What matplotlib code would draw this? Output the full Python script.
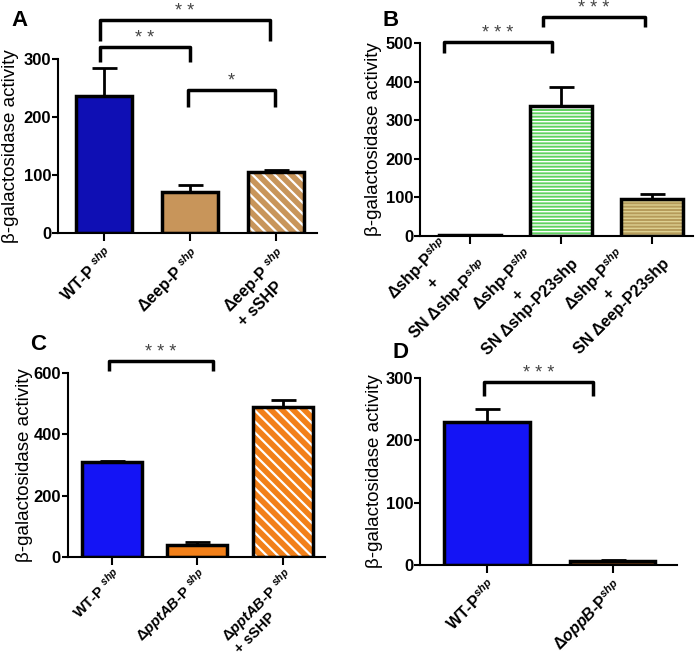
import matplotlib
matplotlib.use('Agg')
import matplotlib.pyplot as plt

plt.rcParams['font.family'] = ['Liberation Sans', 'DejaVu Sans']
plt.rcParams['mathtext.fontset'] = 'custom'
plt.rcParams['mathtext.rm'] = 'Liberation Sans:bold'
plt.rcParams['mathtext.it'] = 'Liberation Sans:italic:bold'
plt.rcParams['mathtext.bf'] = 'Liberation Sans:bold'

# panel A
a_labels = ['WT-P $^{shp}$', 'Δeep-P $^{shp}$', 'Δeep-P $^{shp}$\n+ sSHP']
a_vals = [236, 71, 105]
a_err = [48, 12, 3]
a_sig = [(-0.05, 1.0, 321, 295, '* *'), (-0.05, 1.93, 367, 331, '* *'), (0.97, 1.99, 247, 217, '*')]

# panel B
b_labels = ['Δshp-P$^{shp}$\n+\nSN Δshp-P$^{shp}$', 'Δshp-P$^{shp}$\n+\nSN Δshp-P23shp',
            'Δshp-P$^{shp}$\n+\nSN Δeep-P23shp']
b_vals = [2, 337, 96]
b_err = [1, 49, 13]
b_sig = [(-0.29, 0.90, 503, 474, '* * *'), (0.80, 1.92, 567, 541, '* * *')]

# panel C
c_labels = ['WT-P $^{shp}$', 'Δ$pptAB$-P $^{shp}$', 'Δ$pptAB$-P $^{shp}$\n+ sSHP']
c_vals = [310, 39, 489]
c_err = [3, 10, 23]
c_sig = [(-0.04, 1.18, 640, 607, '* * *')]

# panel D
d_labels = ['WT-P$^{shp}$', 'Δ$oppB$-P$^{shp}$']
d_vals = [229, 6]
d_err = [21, 2]
d_sig = [(-0.02, 0.84, 294, 271, '* * *')]

fig = plt.figure(figsize=(7, 6.52), dpi=100)


def panel(rect, letter, letter_xy, labels, vals, err, styles, ylim, yticks, xlim, width, sig,
          ylab_x, xfs, xva, xalign, xpad=2, lsp=1.2):
    ax = fig.add_axes(rect)
    x = list(range(len(vals)))
    for i in x:
        fc, hatch, hc, lw_h = styles[i]
        if hatch:
            with plt.rc_context({'hatch.linewidth': lw_h}):
                ax.bar(i, vals[i], width, color=fc, edgecolor=hc, hatch=hatch, linewidth=0, zorder=2)
        else:
            ax.bar(i, vals[i], width, color=fc, linewidth=0, zorder=2)
        ax.bar(i, vals[i], width, fill=False, edgecolor='black', linewidth=2.5, zorder=3)
    ax.errorbar(x, vals, yerr=[[0] * len(vals), err], fmt='none', ecolor='black',
                elinewidth=2, capsize=9, capthick=2, zorder=1)
    ax.set_ylim(*ylim)
    ax.set_xlim(*xlim)
    ax.set_yticks(yticks)
    ax.set_xticks(x)
    ax.set_xticklabels(labels, rotation=45, ha='right', va=xva, rotation_mode='anchor',
                       fontsize=xfs, fontweight='bold', multialignment=xalign, linespacing=lsp)
    ax.tick_params(axis='y', labelsize=12, width=1.5, length=4, direction='out', pad=1)
    ax.tick_params(axis='x', width=1.5, length=6, direction='out', pad=xpad)
    for t in ax.get_yticklabels():
        t.set_fontweight('bold')
    for s in ['top', 'right']:
        ax.spines[s].set_visible(False)
    for s in ['left', 'bottom']:
        ax.spines[s].set_linewidth(1.5)
    ax.set_ylabel('β-galactosidase activity', fontsize=13.5)
    ax.yaxis.set_label_coords(ylab_x, 0.5)
    for x1, x2, y, leg, txt in sig:
        ax.plot([x1, x1, x2, x2], [leg, y, y, leg], color='black', lw=2.5, clip_on=False,
                solid_joinstyle='round', solid_capstyle='butt')
        ax.text((x1 + x2) / 2, y, txt, ha='center', va='bottom', fontsize=13, color='#444444')
    fig.text(letter_xy[0], letter_xy[1], letter, fontsize=16, fontweight='bold', ha='left', va='center')
    return ax


ax_a = panel([0.083, 0.643, 0.370, 0.2665], 'A', (0.017, 0.968), a_labels, a_vals, a_err,
             [('#0f0fb4', None, None, 0), ('#c8955a', None, None, 0), ('#c8955a', '\\\\\\', 'white', 1.6)],
             (0, 300), [0, 100, 200, 300], (-0.535, 2.477), 0.66, a_sig, -0.151, 11.5, 'top', 'left')

ax_b = panel([0.6, 0.638, 0.39, 0.296], 'B', (0.546, 0.969), b_labels, b_vals, b_err,
             [('black', None, None, 0), ('#5fd35f', '-----', 'white', 1.0), ('#b59b5a', '-----', '#ddd090', 1.0)],
             (0, 500), [0, 100, 200, 300, 400, 500], (-0.55, 2.45), 0.68, b_sig, -0.139, 11.5, 'center', 'center')

ax_c = panel([0.097, 0.1457, 0.367, 0.282], 'C', (0.043, 0.471), c_labels, c_vals, c_err,
             [('#1414f5', None, None, 0), ('#f28019', None, None, 0), ('#f28019', '\\\\\\', 'white', 1.6)],
             (0, 600), [0, 200, 400, 600], (-0.515, 2.49), 0.70, c_sig, -0.136, 10.5, 'top', 'left', 0, 1.0)

ax_d = panel([0.6, 0.1334, 0.367, 0.287], 'D', (0.56, 0.46), d_labels, d_vals, d_err,
             [('#1414f5', None, None, 0), ('#8b4a1c', None, None, 0)],
             (0, 300), [0, 100, 200, 300], (-0.53, 1.51), 0.68, d_sig, -0.144, 11.5, 'top', 'left')

fig.savefig('out.png', dpi=100)
